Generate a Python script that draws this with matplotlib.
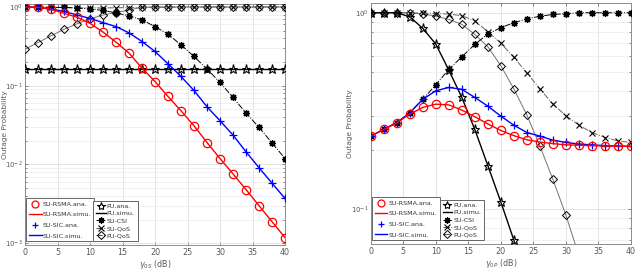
import numpy as np
import matplotlib
matplotlib.use("Agg")
import matplotlib.pyplot as plt
from matplotlib.ticker import LogLocator, NullFormatter
from matplotlib.lines import Line2D

# ---------------- data ----------------
snr = [0, 2, 4, 6, 8, 10, 12, 14, 16, 18, 20, 22, 24, 26, 28, 30, 32, 34, 36, 38, 40]

# Left panel (vs gamma_0S)
L_rsma = [1.0, 0.99, 0.935, 0.83, 0.74, 0.62, 0.48, 0.357, 0.26, 0.167, 0.113, 0.073,
          0.048, 0.031, 0.019, 0.0119, 0.0076, 0.0048, 0.0030, 0.00188, 0.00118]
L_sic = [1.0, 0.986, 0.944, 0.877, 0.79, 0.715, 0.632, 0.563, 0.469, 0.364, 0.272, 0.19,
         0.131, 0.087, 0.054, 0.036, 0.0236, 0.0145, 0.0091, 0.0058, 0.0037]
L_pu = [0.164] * 21
L_csi = [1.0, 1.0, 0.99, 0.986, 0.97, 0.944, 0.904, 0.84, 0.77, 0.684, 0.564, 0.451,
         0.33, 0.235, 0.163, 0.11, 0.071, 0.045, 0.0296, 0.0188, 0.0119]
L_suqos = [0.99, 0.99, 0.985, 0.98, 0.975, 0.97, 0.97, 0.975, 0.98, 0.985, 0.99, 0.99,
           0.995, 0.995, 1.0, 1.0, 1.0, 1.0, 1.0, 1.0, 1.0]
L_puqos = [0.291, 0.353, 0.43, 0.52, 0.61, 0.705, 0.79, 0.85, 0.916, 0.99, 1.0, 1.0,
           1.0, 1.0, 1.0, 1.0, 1.0, 1.0, 1.0, 1.0, 1.0]

# Right panel (vs gamma_0P)
R_rsma = [0.236, 0.255, 0.276, 0.305, 0.33, 0.343, 0.34, 0.32, 0.296, 0.272, 0.252, 0.237,
          0.226, 0.22, 0.216, 0.213, 0.212, 0.211, 0.21, 0.21, 0.209]
R_sic = [0.236, 0.255, 0.276, 0.31, 0.363, 0.401, 0.417, 0.408, 0.371, 0.335, 0.298, 0.268,
         0.246, 0.236, 0.225, 0.219, 0.215, 0.213, 0.211, 0.21, 0.209]
R_pu_snr = [0, 2, 4, 6, 8, 10, 12, 14, 16, 18, 20, 22, 24]
R_pu = [1.0, 1.0, 1.0, 0.954, 0.833, 0.693, 0.511, 0.371, 0.255, 0.167, 0.109, 0.0698, 0.042]
R_csi = [0.236, 0.255, 0.276, 0.31, 0.363, 0.43, 0.515, 0.597, 0.69, 0.78, 0.84, 0.89,
         0.93, 0.96, 0.98, 0.99, 1.0, 1.0, 1.0, 1.0, 1.0]
R_suqos = [1.0, 1.0, 1.0, 1.0, 0.995, 0.99, 0.985, 0.966, 0.91, 0.80, 0.70, 0.593,
           0.495, 0.41, 0.343, 0.30, 0.268, 0.246, 0.232, 0.223, 0.219]
R_puqos_snr = [0, 2, 4, 6, 8, 10, 12, 14, 16, 18, 20, 22, 24, 26, 28, 30, 32]
R_puqos = [1.0, 1.0, 1.0, 1.0, 0.985, 0.962, 0.925, 0.873, 0.776, 0.671, 0.538, 0.41,
           0.302, 0.21, 0.142, 0.0935, 0.058]

xticks = [0, 5, 10, 15, 20, 25, 30, 35, 40]

# ---------------- style ----------------
FS = 5.8
AX_C = '0.35'
GRID_C = '0.88'
ASTER = (8, 2, 0)


def style_axes(ax, ylim, xlabel, ylab_x):
    ax.set_yscale('log')
    ax.set_xlim(0, 40)
    ax.set_ylim(*ylim)
    ax.set_xticks(xticks)
    ax.yaxis.set_major_locator(LogLocator(base=10, numticks=10))
    ax.yaxis.set_minor_locator(LogLocator(base=10, subs=np.arange(2, 10), numticks=20))
    ax.yaxis.set_minor_formatter(NullFormatter())
    ax.grid(True, which='major', color=GRID_C, lw=0.6)
    ax.grid(True, which='minor', axis='y', color='0.92', lw=0.5)
    ax.set_axisbelow(True)
    for s in ax.spines.values():
        s.set_color('0.55')
        s.set_linewidth(0.7)
    ax.tick_params(which='both', direction='in', top=True, right=True,
                   labelsize=FS, colors=AX_C, length=2, width=0.5, pad=2.5)
    ax.tick_params(axis='y', which='both', labelsize=5.0, pad=1.5)
    ax.tick_params(which='minor', length=1.2)
    ax.set_xlabel(xlabel, fontsize=FS, color=AX_C)
    ax.xaxis.set_label_coords(0.5, -0.052)
    ax.set_ylabel('Outage Probability', fontsize=5.3, color=AX_C)
    ax.yaxis.set_label_coords(ylab_x, 0.5)


def draw(ax, x, rsma, sic, pux, pu, csi, suqos, pqx, puqos):
    ax.plot(pqx, puqos, color='0.45', lw=0.7, marker='D', ms=4.5, mfc='none',
            mec='k', mew=0.7, zorder=3)
    ax.plot(x, suqos, color='0.4', lw=0.7, ls='-.', marker='x', ms=4.5,
            mec='k', mew=0.8, zorder=3)
    ax.plot(x, csi, color='k', lw=0.7, ls='-.', marker=ASTER, ms=5,
            mec='k', mew=0.9, zorder=3)
    ax.plot(pux, pu, color='k', lw=1.0, zorder=4)
    ax.plot(pux, pu, ls='none', marker='*', ms=6.5, mfc='none', mec='k', mew=0.8, zorder=4)
    ax.plot(x, sic, color='blue', lw=1.0, zorder=5)
    ax.plot(x, sic, ls='none', marker='+', ms=6, mec='blue', mew=0.9, zorder=5)
    ax.plot(x, rsma, color='red', lw=1.0, zorder=6)
    ax.plot(x, rsma, ls='none', marker='o', ms=6, mfc='none', mec='red', mew=0.9, zorder=6)


def legends(ax, x2):
    h1 = [Line2D([], [], ls='none', marker='o', ms=5, mfc='none', mec='red', mew=0.9),
          Line2D([], [], color='red', lw=1.0),
          Line2D([], [], ls='none', marker='+', ms=5, mec='blue', mew=0.9),
          Line2D([], [], color='blue', lw=1.0)]
    l1 = ['SU-RSMA.ana.', 'SU-RSMA.simu.', 'SU-SIC.ana.', 'SU-SIC.simu.']
    h2 = [Line2D([], [], ls='none', marker='*', ms=6, mfc='none', mec='k', mew=0.8),
          Line2D([], [], color='k', lw=1.0),
          Line2D([], [], color='k', lw=0.7, ls='-.', marker=ASTER, ms=4.5, mew=0.9),
          Line2D([], [], color='0.3', lw=0.7, ls='-.', marker='x', ms=4, mec='k', mew=0.8),
          Line2D([], [], color='0.3', lw=0.7, ls='-.', marker='D', ms=4, mfc='none', mec='k', mew=0.7)]
    l2 = ['PU.ana.', 'PU.simu.', 'SU-CSI', 'SU-QoS', 'PU-QoS']
    kw = dict(fontsize=4.6, frameon=True, fancybox=False, framealpha=1,
              borderpad=0.45, handletextpad=0.2, borderaxespad=0.0)
    lg1 = ax.legend(h1, l1, loc='lower left', bbox_to_anchor=(0.004, 0.015),
                    handlelength=2.0, labelspacing=0.8, **kw)
    lg1.get_frame().set_edgecolor('0.4')
    lg1.get_frame().set_linewidth(0.7)
    ax.add_artist(lg1)
    lg2 = ax.legend(h2, l2, loc='lower left', bbox_to_anchor=(x2, 0.015),
                    handlelength=1.5, labelspacing=0.3, **kw)
    lg2.get_frame().set_edgecolor('0.4')
    lg2.get_frame().set_linewidth(0.7)
    for t in list(lg1.get_texts()) + list(lg2.get_texts()):
        t.set_color('0.2')


fig = plt.figure(figsize=(6.4, 2.7), dpi=100)
axL = fig.add_axes([25 / 640, 1 - 245 / 270, 260 / 640, 241 / 270])
axR = fig.add_axes([370.7 / 640, 1 - 244 / 270, 260.3 / 640, 240.7 / 270])

draw(axL, snr, L_rsma, L_sic, snr, L_pu, L_csi, L_suqos, snr, L_puqos)
style_axes(axL, (0.00095, 1.09), r'$\gamma_{0S}$ (dB)', (8 - 25) / 260)
legends(axL, 0.262)

draw(axR, snr, R_rsma, R_sic, R_pu_snr, R_pu, R_csi, R_suqos, R_puqos_snr, R_puqos)
style_axes(axR, (0.0667, 1.117), r'$\gamma_{0P}$ (dB)', (353 - 370.7) / 260.3)
legends(axR, 0.265)

fig.savefig('out.png', dpi=100)
